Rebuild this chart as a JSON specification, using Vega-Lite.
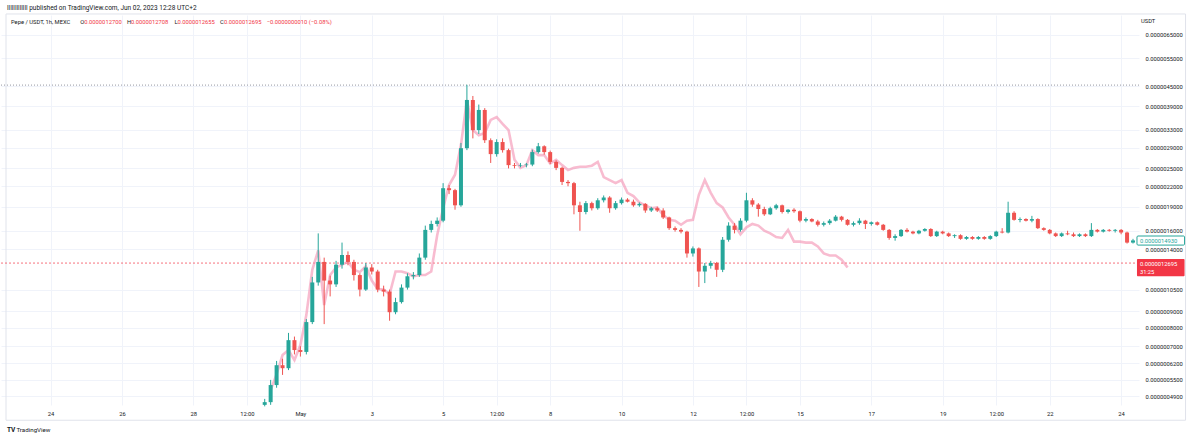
{
"$schema":"https://vega.github.io/schema/vega-lite/v6.json",
"width":1138,"height":390,
"autosize":{"type":"none"},
"padding":{"left":1,"top":15,"right":61,"bottom":34},
"background":"#ffffff",
"config":{"view":{"stroke":null},"font":"Roboto","text":{"font":"Roboto"}},
"datasets":{
"candles":[
{"t":"2023-04-30T00:00","o":0.46,"h":0.48,"l":0.455,"c":0.469},
{"t":"2023-04-30T04:00","o":0.469,"h":0.55,"l":0.46,"c":0.53},
{"t":"2023-04-30T08:00","o":0.53,"h":0.63,"l":0.52,"c":0.611},
{"t":"2023-04-30T12:00","o":0.611,"h":0.64,"l":0.57,"c":0.598},
{"t":"2023-04-30T16:00","o":0.598,"h":0.77,"l":0.59,"c":0.731},
{"t":"2023-04-30T20:00","o":0.731,"h":0.75,"l":0.66,"c":0.681},
{"t":"2023-05-01T00:00","o":0.681,"h":0.70,"l":0.65,"c":0.672},
{"t":"2023-05-01T04:00","o":0.672,"h":0.85,"l":0.66,"c":0.832},
{"t":"2023-05-01T08:00","o":0.832,"h":1.15,"l":0.82,"c":1.105},
{"t":"2023-05-01T12:00","o":1.105,"h":1.57,"l":1.08,"c":1.28},
{"t":"2023-05-01T16:00","o":1.28,"h":1.32,"l":0.82,"c":1.12},
{"t":"2023-05-01T20:00","o":1.12,"h":1.16,"l":1.0,"c":1.09},
{"t":"2023-05-02T00:00","o":1.09,"h":1.29,"l":1.07,"c":1.255},
{"t":"2023-05-02T04:00","o":1.255,"h":1.47,"l":1.22,"c":1.345},
{"t":"2023-05-02T08:00","o":1.345,"h":1.38,"l":1.25,"c":1.28},
{"t":"2023-05-02T12:00","o":1.28,"h":1.30,"l":1.12,"c":1.165},
{"t":"2023-05-02T16:00","o":1.165,"h":1.18,"l":1.0,"c":1.05},
{"t":"2023-05-02T20:00","o":1.05,"h":1.27,"l":1.04,"c":1.23},
{"t":"2023-05-03T00:00","o":1.23,"h":1.26,"l":1.17,"c":1.195},
{"t":"2023-05-03T04:00","o":1.195,"h":1.21,"l":1.03,"c":1.05},
{"t":"2023-05-03T08:00","o":1.05,"h":1.08,"l":1.0,"c":1.035},
{"t":"2023-05-03T12:00","o":1.035,"h":1.05,"l":0.84,"c":0.893},
{"t":"2023-05-03T16:00","o":0.893,"h":0.99,"l":0.88,"c":0.96},
{"t":"2023-05-03T20:00","o":0.96,"h":1.09,"l":0.95,"c":1.065},
{"t":"2023-05-04T00:00","o":1.065,"h":1.18,"l":1.05,"c":1.155},
{"t":"2023-05-04T04:00","o":1.155,"h":1.19,"l":1.13,"c":1.165},
{"t":"2023-05-04T08:00","o":1.165,"h":1.36,"l":1.15,"c":1.32},
{"t":"2023-05-04T12:00","o":1.32,"h":1.66,"l":1.30,"c":1.61},
{"t":"2023-05-04T16:00","o":1.61,"h":1.72,"l":1.58,"c":1.68},
{"t":"2023-05-04T20:00","o":1.68,"h":1.76,"l":1.65,"c":1.72},
{"t":"2023-05-05T00:00","o":1.72,"h":2.25,"l":1.70,"c":2.17},
{"t":"2023-05-05T04:00","o":2.17,"h":2.22,"l":2.08,"c":2.14},
{"t":"2023-05-05T08:00","o":2.14,"h":2.16,"l":1.86,"c":1.92},
{"t":"2023-05-05T12:00","o":1.92,"h":3.0,"l":1.90,"c":2.89},
{"t":"2023-05-05T16:00","o":2.89,"h":4.55,"l":2.85,"c":4.08},
{"t":"2023-05-05T20:00","o":4.08,"h":4.2,"l":3.1,"c":3.29},
{"t":"2023-05-06T00:00","o":3.29,"h":3.95,"l":3.2,"c":3.80},
{"t":"2023-05-06T04:00","o":3.80,"h":3.85,"l":3.0,"c":3.06},
{"t":"2023-05-06T08:00","o":3.06,"h":3.1,"l":2.6,"c":2.77},
{"t":"2023-05-06T12:00","o":2.77,"h":3.08,"l":2.72,"c":3.02},
{"t":"2023-05-06T16:00","o":3.02,"h":3.1,"l":2.8,"c":2.85},
{"t":"2023-05-06T20:00","o":2.85,"h":2.88,"l":2.5,"c":2.56},
{"t":"2023-05-07T00:00","o":2.56,"h":2.6,"l":2.5,"c":2.55},
{"t":"2023-05-07T04:00","o":2.55,"h":2.6,"l":2.52,"c":2.56},
{"t":"2023-05-07T08:00","o":2.56,"h":2.6,"l":2.52,"c":2.57},
{"t":"2023-05-07T12:00","o":2.57,"h":2.86,"l":2.54,"c":2.81},
{"t":"2023-05-07T16:00","o":2.81,"h":3.0,"l":2.78,"c":2.93},
{"t":"2023-05-07T20:00","o":2.93,"h":2.95,"l":2.76,"c":2.81},
{"t":"2023-05-08T00:00","o":2.81,"h":2.84,"l":2.58,"c":2.62},
{"t":"2023-05-08T04:00","o":2.62,"h":2.65,"l":2.47,"c":2.51},
{"t":"2023-05-08T08:00","o":2.51,"h":2.53,"l":2.22,"c":2.27},
{"t":"2023-05-08T12:00","o":2.27,"h":2.3,"l":2.2,"c":2.25},
{"t":"2023-05-08T16:00","o":2.25,"h":2.27,"l":1.80,"c":1.92},
{"t":"2023-05-08T20:00","o":1.92,"h":1.97,"l":1.60,"c":1.83},
{"t":"2023-05-09T00:00","o":1.83,"h":1.98,"l":1.80,"c":1.95},
{"t":"2023-05-09T04:00","o":1.95,"h":1.97,"l":1.85,"c":1.88},
{"t":"2023-05-09T08:00","o":1.88,"h":2.02,"l":1.86,"c":1.99},
{"t":"2023-05-09T12:00","o":1.99,"h":2.06,"l":1.96,"c":2.03},
{"t":"2023-05-09T16:00","o":2.03,"h":2.05,"l":1.82,"c":1.88},
{"t":"2023-05-09T20:00","o":1.88,"h":1.98,"l":1.86,"c":1.95},
{"t":"2023-05-10T00:00","o":1.95,"h":2.03,"l":1.93,"c":2.0},
{"t":"2023-05-10T04:00","o":2.0,"h":2.02,"l":1.96,"c":1.97},
{"t":"2023-05-10T08:00","o":1.97,"h":2.0,"l":1.9,"c":1.92},
{"t":"2023-05-10T12:00","o":1.92,"h":1.96,"l":1.9,"c":1.94},
{"t":"2023-05-10T16:00","o":1.94,"h":1.95,"l":1.82,"c":1.85},
{"t":"2023-05-10T20:00","o":1.85,"h":1.9,"l":1.83,"c":1.88},
{"t":"2023-05-11T00:00","o":1.88,"h":1.9,"l":1.83,"c":1.85},
{"t":"2023-05-11T04:00","o":1.85,"h":1.88,"l":1.74,"c":1.76},
{"t":"2023-05-11T08:00","o":1.76,"h":1.77,"l":1.61,"c":1.63},
{"t":"2023-05-11T12:00","o":1.63,"h":1.65,"l":1.59,"c":1.61},
{"t":"2023-05-11T16:00","o":1.61,"h":1.63,"l":1.57,"c":1.59},
{"t":"2023-05-11T20:00","o":1.59,"h":1.60,"l":1.32,"c":1.36},
{"t":"2023-05-12T00:00","o":1.36,"h":1.43,"l":1.33,"c":1.41},
{"t":"2023-05-12T04:00","o":1.41,"h":1.42,"l":1.07,"c":1.195},
{"t":"2023-05-12T08:00","o":1.195,"h":1.27,"l":1.1,"c":1.245},
{"t":"2023-05-12T12:00","o":1.245,"h":1.29,"l":1.22,"c":1.27},
{"t":"2023-05-12T16:00","o":1.27,"h":1.28,"l":1.15,"c":1.21},
{"t":"2023-05-12T20:00","o":1.21,"h":1.53,"l":1.19,"c":1.50},
{"t":"2023-05-13T00:00","o":1.50,"h":1.70,"l":1.48,"c":1.66},
{"t":"2023-05-13T04:00","o":1.66,"h":1.69,"l":1.57,"c":1.61},
{"t":"2023-05-13T08:00","o":1.61,"h":1.75,"l":1.59,"c":1.72},
{"t":"2023-05-13T12:00","o":1.72,"h":2.1,"l":1.70,"c":1.99},
{"t":"2023-05-13T16:00","o":1.99,"h":2.02,"l":1.90,"c":1.93},
{"t":"2023-05-13T20:00","o":1.93,"h":1.95,"l":1.77,"c":1.87},
{"t":"2023-05-14T00:00","o":1.87,"h":1.9,"l":1.78,"c":1.80},
{"t":"2023-05-14T04:00","o":1.80,"h":1.9,"l":1.79,"c":1.88},
{"t":"2023-05-14T08:00","o":1.88,"h":1.94,"l":1.86,"c":1.92},
{"t":"2023-05-14T12:00","o":1.92,"h":1.93,"l":1.81,"c":1.83},
{"t":"2023-05-14T16:00","o":1.83,"h":1.87,"l":1.81,"c":1.86},
{"t":"2023-05-14T20:00","o":1.86,"h":1.88,"l":1.82,"c":1.84},
{"t":"2023-05-15T00:00","o":1.84,"h":1.85,"l":1.70,"c":1.72},
{"t":"2023-05-15T04:00","o":1.72,"h":1.76,"l":1.7,"c":1.74},
{"t":"2023-05-15T08:00","o":1.74,"h":1.75,"l":1.7,"c":1.71},
{"t":"2023-05-15T12:00","o":1.71,"h":1.73,"l":1.65,"c":1.67},
{"t":"2023-05-15T16:00","o":1.67,"h":1.71,"l":1.65,"c":1.69},
{"t":"2023-05-15T20:00","o":1.69,"h":1.74,"l":1.67,"c":1.72},
{"t":"2023-05-16T00:00","o":1.72,"h":1.79,"l":1.71,"c":1.77},
{"t":"2023-05-16T04:00","o":1.77,"h":1.78,"l":1.71,"c":1.73},
{"t":"2023-05-16T08:00","o":1.73,"h":1.74,"l":1.66,"c":1.67},
{"t":"2023-05-16T12:00","o":1.67,"h":1.71,"l":1.65,"c":1.69},
{"t":"2023-05-16T16:00","o":1.69,"h":1.75,"l":1.67,"c":1.72},
{"t":"2023-05-16T20:00","o":1.72,"h":1.73,"l":1.62,"c":1.68},
{"t":"2023-05-17T00:00","o":1.68,"h":1.71,"l":1.66,"c":1.70},
{"t":"2023-05-17T04:00","o":1.70,"h":1.71,"l":1.66,"c":1.67},
{"t":"2023-05-17T08:00","o":1.67,"h":1.68,"l":1.6,"c":1.61},
{"t":"2023-05-17T12:00","o":1.61,"h":1.62,"l":1.5,"c":1.52},
{"t":"2023-05-17T16:00","o":1.52,"h":1.56,"l":1.49,"c":1.54},
{"t":"2023-05-17T20:00","o":1.54,"h":1.62,"l":1.53,"c":1.61},
{"t":"2023-05-18T00:00","o":1.61,"h":1.63,"l":1.58,"c":1.59},
{"t":"2023-05-18T04:00","o":1.59,"h":1.60,"l":1.56,"c":1.57},
{"t":"2023-05-18T08:00","o":1.57,"h":1.61,"l":1.56,"c":1.60},
{"t":"2023-05-18T12:00","o":1.60,"h":1.63,"l":1.59,"c":1.62},
{"t":"2023-05-18T16:00","o":1.62,"h":1.63,"l":1.53,"c":1.54},
{"t":"2023-05-18T20:00","o":1.54,"h":1.6,"l":1.53,"c":1.59},
{"t":"2023-05-19T00:00","o":1.59,"h":1.6,"l":1.56,"c":1.57},
{"t":"2023-05-19T04:00","o":1.57,"h":1.58,"l":1.53,"c":1.54},
{"t":"2023-05-19T08:00","o":1.54,"h":1.56,"l":1.52,"c":1.55},
{"t":"2023-05-19T12:00","o":1.55,"h":1.56,"l":1.5,"c":1.51},
{"t":"2023-05-19T16:00","o":1.51,"h":1.54,"l":1.5,"c":1.53},
{"t":"2023-05-19T20:00","o":1.53,"h":1.54,"l":1.5,"c":1.51},
{"t":"2023-05-20T00:00","o":1.51,"h":1.54,"l":1.5,"c":1.53},
{"t":"2023-05-20T04:00","o":1.53,"h":1.54,"l":1.5,"c":1.51},
{"t":"2023-05-20T08:00","o":1.51,"h":1.55,"l":1.5,"c":1.54},
{"t":"2023-05-20T12:00","o":1.54,"h":1.6,"l":1.53,"c":1.59},
{"t":"2023-05-20T16:00","o":1.59,"h":1.63,"l":1.57,"c":1.58},
{"t":"2023-05-20T20:00","o":1.58,"h":1.97,"l":1.57,"c":1.82},
{"t":"2023-05-21T00:00","o":1.82,"h":1.84,"l":1.72,"c":1.73},
{"t":"2023-05-21T04:00","o":1.73,"h":1.76,"l":1.7,"c":1.74},
{"t":"2023-05-21T08:00","o":1.74,"h":1.75,"l":1.71,"c":1.72},
{"t":"2023-05-21T12:00","o":1.72,"h":1.78,"l":1.7,"c":1.74},
{"t":"2023-05-21T16:00","o":1.74,"h":1.75,"l":1.62,"c":1.63},
{"t":"2023-05-21T20:00","o":1.63,"h":1.64,"l":1.6,"c":1.61},
{"t":"2023-05-22T00:00","o":1.61,"h":1.62,"l":1.56,"c":1.57},
{"t":"2023-05-22T04:00","o":1.57,"h":1.58,"l":1.53,"c":1.54},
{"t":"2023-05-22T08:00","o":1.54,"h":1.58,"l":1.53,"c":1.57},
{"t":"2023-05-22T12:00","o":1.57,"h":1.6,"l":1.55,"c":1.56},
{"t":"2023-05-22T16:00","o":1.56,"h":1.58,"l":1.53,"c":1.54},
{"t":"2023-05-22T20:00","o":1.54,"h":1.57,"l":1.53,"c":1.56},
{"t":"2023-05-23T00:00","o":1.56,"h":1.57,"l":1.53,"c":1.54},
{"t":"2023-05-23T04:00","o":1.54,"h":1.69,"l":1.53,"c":1.61},
{"t":"2023-05-23T08:00","o":1.61,"h":1.62,"l":1.58,"c":1.59},
{"t":"2023-05-23T12:00","o":1.59,"h":1.62,"l":1.58,"c":1.61},
{"t":"2023-05-23T16:00","o":1.61,"h":1.62,"l":1.59,"c":1.60},
{"t":"2023-05-23T20:00","o":1.60,"h":1.62,"l":1.58,"c":1.61},
{"t":"2023-05-24T00:00","o":1.61,"h":1.62,"l":1.56,"c":1.58},
{"t":"2023-05-24T04:00","o":1.58,"h":1.59,"l":1.46,"c":1.47},
{"t":"2023-05-24T08:00","o":1.47,"h":1.51,"l":1.46,"c":1.493}
],
"ghost":[
{"t":"2023-04-30T04:00","p":0.511},{"t":"2023-04-30T08:00","p":0.573},{"t":"2023-04-30T12:00","p":0.657},{"t":"2023-04-30T16:00","p":0.681},{"t":"2023-04-30T20:00","p":0.634},
{"t":"2023-05-01T00:00","p":0.706},{"t":"2023-05-01T04:00","p":0.875},{"t":"2023-05-01T08:00","p":1.21},{"t":"2023-05-01T12:00","p":1.39},{"t":"2023-05-01T16:00","p":0.94},{"t":"2023-05-01T20:00","p":1.165},
{"t":"2023-05-02T00:00","p":1.23},{"t":"2023-05-02T04:00","p":1.255},{"t":"2023-05-02T08:00","p":1.28},{"t":"2023-05-02T12:00","p":1.21},{"t":"2023-05-02T16:00","p":1.19},{"t":"2023-05-02T20:00","p":1.24},
{"t":"2023-05-03T00:00","p":1.12},{"t":"2023-05-03T04:00","p":1.055},{"t":"2023-05-03T08:00","p":1.05},{"t":"2023-05-03T12:00","p":1.015},{"t":"2023-05-03T16:00","p":1.195},{"t":"2023-05-03T20:00","p":1.195},
{"t":"2023-05-04T00:00","p":1.18},{"t":"2023-05-04T04:00","p":1.155},{"t":"2023-05-04T08:00","p":1.165},{"t":"2023-05-04T12:00","p":1.165},{"t":"2023-05-04T16:00","p":1.195},{"t":"2023-05-04T20:00","p":1.55},
{"t":"2023-05-05T00:00","p":1.88},{"t":"2023-05-05T04:00","p":2.22},{"t":"2023-05-05T08:00","p":2.39},{"t":"2023-05-05T12:00","p":2.96},{"t":"2023-05-05T16:00","p":4.08},{"t":"2023-05-05T20:00","p":3.29},
{"t":"2023-05-06T00:00","p":3.17},{"t":"2023-05-06T04:00","p":3.22},{"t":"2023-05-06T08:00","p":3.54},{"t":"2023-05-06T12:00","p":3.61},{"t":"2023-05-06T16:00","p":3.44},{"t":"2023-05-06T20:00","p":3.29},
{"t":"2023-05-07T00:00","p":2.66},{"t":"2023-05-07T04:00","p":2.51},{"t":"2023-05-07T08:00","p":2.56},{"t":"2023-05-07T12:00","p":2.85},{"t":"2023-05-07T16:00","p":2.75},{"t":"2023-05-07T20:00","p":2.75},
{"t":"2023-05-08T00:00","p":2.59},{"t":"2023-05-08T04:00","p":2.66},{"t":"2023-05-08T08:00","p":2.56},{"t":"2023-05-08T12:00","p":2.47},{"t":"2023-05-08T16:00","p":2.51},{"t":"2023-05-08T20:00","p":2.53},
{"t":"2023-05-09T00:00","p":2.53},{"t":"2023-05-09T04:00","p":2.55},{"t":"2023-05-09T08:00","p":2.62},{"t":"2023-05-09T12:00","p":2.35},{"t":"2023-05-09T16:00","p":2.30},{"t":"2023-05-09T20:00","p":2.25},
{"t":"2023-05-10T00:00","p":2.30},{"t":"2023-05-10T04:00","p":2.10},{"t":"2023-05-10T08:00","p":2.05},{"t":"2023-05-10T12:00","p":1.96},{"t":"2023-05-10T16:00","p":1.92},{"t":"2023-05-10T20:00","p":1.88},
{"t":"2023-05-11T00:00","p":1.89},{"t":"2023-05-11T04:00","p":1.79},{"t":"2023-05-11T08:00","p":1.73},{"t":"2023-05-11T12:00","p":1.72},{"t":"2023-05-11T16:00","p":1.67},{"t":"2023-05-11T20:00","p":1.72},
{"t":"2023-05-12T00:00","p":1.73},{"t":"2023-05-12T04:00","p":2.07},{"t":"2023-05-12T08:00","p":2.30},{"t":"2023-05-12T12:00","p":2.10},{"t":"2023-05-12T16:00","p":1.95},{"t":"2023-05-12T20:00","p":1.89},
{"t":"2023-05-13T00:00","p":1.76},{"t":"2023-05-13T04:00","p":1.67},{"t":"2023-05-13T08:00","p":1.56},{"t":"2023-05-13T12:00","p":1.64},{"t":"2023-05-13T16:00","p":1.68},{"t":"2023-05-13T20:00","p":1.66},
{"t":"2023-05-14T00:00","p":1.60},{"t":"2023-05-14T04:00","p":1.57},{"t":"2023-05-14T08:00","p":1.53},{"t":"2023-05-14T12:00","p":1.52},{"t":"2023-05-14T16:00","p":1.61},{"t":"2023-05-14T20:00","p":1.48},
{"t":"2023-05-15T00:00","p":1.48},{"t":"2023-05-15T04:00","p":1.47},{"t":"2023-05-15T08:00","p":1.47},{"t":"2023-05-15T12:00","p":1.43},{"t":"2023-05-15T16:00","p":1.36},{"t":"2023-05-15T20:00","p":1.34},
{"t":"2023-05-16T00:00","p":1.34},{"t":"2023-05-16T04:00","p":1.30},{"t":"2023-05-16T08:00","p":1.23}
]
},
"layer":[
{"data":{"values":[{}]},"layer":[
{"mark":{"type":"rect","fill":null,"stroke":"#e0e3eb","strokeWidth":1},
 "encoding":{"x":{"datum":{"year":2023,"month":4,"date":22,"hours":18},"type":"temporal"},"x2":{"datum":{"year":2023,"month":5,"date":25,"hours":19,"minutes":20}},
 "y":{"datum":7.555,"type":"quantitative"},"y2":{"datum":0.412}}},
{"mark":{"type":"rule","color":"#9598a1","strokeDash":[1,2],"strokeWidth":1},"encoding":{"y":{"datum":4.54,"type":"quantitative"}}},
{"mark":{"type":"rule","color":"#f23645","strokeDash":[2,2],"strokeWidth":1,"opacity":0.7},"encoding":{"y":{"datum":1.2695,"type":"quantitative"}}}
]},
{"data":{"name":"ghost"},"mark":{"type":"line","color":"#f48fb1","opacity":0.6,"strokeWidth":2.6},
 "encoding":{"x":{"field":"t","type":"temporal"},"y":{"field":"p","type":"quantitative"}}},
{"data":{"name":"candles"},"mark":{"type":"rule","strokeWidth":1},
 "encoding":{
  "x":{"field":"t","type":"temporal","scale":{"domain":[{"year":2023,"month":4,"date":22,"hours":18},{"year":2023,"month":5,"date":24,"hours":8,"minutes":40}]},
   "axis":{"title":null,"orient":"bottom","domain":false,"ticks":false,"grid":true,"gridColor":"#f0f3fa","labelFontSize":5.8,"labelColor":"#131722","labelFont":"Roboto","labelPadding":5,
   "values":[{"year":2023,"month":4,"date":24},{"year":2023,"month":4,"date":26},{"year":2023,"month":4,"date":28},{"year":2023,"month":4,"date":29,"hours":12},{"year":2023,"month":5,"date":1},{"year":2023,"month":5,"date":3},{"year":2023,"month":5,"date":5},{"year":2023,"month":5,"date":6,"hours":12},{"year":2023,"month":5,"date":8},{"year":2023,"month":5,"date":10},{"year":2023,"month":5,"date":12},{"year":2023,"month":5,"date":13,"hours":12},{"year":2023,"month":5,"date":15},{"year":2023,"month":5,"date":17},{"year":2023,"month":5,"date":19},{"year":2023,"month":5,"date":20,"hours":12},{"year":2023,"month":5,"date":22},{"year":2023,"month":5,"date":24}],
   "labelExpr":"hours(datum.value) == 12 ? '12:00' : (date(datum.value) == 1 ? 'May' : '' + date(datum.value))"}},
  "y":{"field":"l","type":"quantitative","scale":{"type":"log","domain":[0.4595,7.5],"nice":false,"zero":false},
   "axis":{"title":null,"orient":"right","domain":false,"ticks":false,"grid":true,"gridColor":"#f0f3fa","labelFontSize":5.8,"labelColor":"#131722","labelFont":"Roboto","labelPadding":6,
   "values":[0.49,0.55,0.62,0.7,0.8,0.9,1.05,1.4,1.6,1.9,2.2,2.5,2.9,3.3,3.9,4.5,5.5,6.5],
   "labelExpr":"format(datum.value/1000000,'.10f')"}},
  "y2":{"field":"h"},
  "color":{"condition":{"test":"datum.c >= datum.o","value":"#26a69a"},"value":"#ef5350"}}},
{"data":{"name":"candles"},"mark":{"type":"bar","width":4},
 "encoding":{"x":{"field":"t","type":"temporal"},"y":{"field":"o","type":"quantitative"},"y2":{"field":"c"},
  "color":{"condition":{"test":"datum.c >= datum.o","value":"#26a69a"},"value":"#ef5350"}}},
{"data":{"values":[{}]},"layer":[
{"mark":{"type":"text","text":"lllllllllllll published on TradingView.com, Jun 02, 2023 12:28 UTC+2","align":"left","baseline":"middle","fontSize":6.5,"color":"#131722"},
 "encoding":{"x":{"datum":{"year":2023,"month":4,"date":22,"hours":18,"minutes":40},"type":"temporal"},"y":{"datum":7.89,"type":"quantitative"}}},
{"mark":{"type":"text","text":"Pepe / USDT, 1h, MEXC","align":"left","baseline":"middle","fontSize":5.8,"color":"#131722"},
 "encoding":{"x":{"datum":{"year":2023,"month":4,"date":22,"hours":21,"minutes":20},"type":"temporal"},"y":{"datum":7.13,"type":"quantitative"}}},
{"mark":{"type":"text","text":"O","align":"left","baseline":"middle","fontSize":5.8,"color":"#131722"},
 "encoding":{"x":{"datum":{"year":2023,"month":4,"date":24,"hours":20},"type":"temporal"},"y":{"datum":7.13,"type":"quantitative"}}},
{"mark":{"type":"text","text":"0.0000012700","align":"left","baseline":"middle","fontSize":5.8,"color":"#f23645"},
 "encoding":{"x":{"datum":{"year":2023,"month":4,"date":24,"hours":22,"minutes":40},"type":"temporal"},"y":{"datum":7.13,"type":"quantitative"}}},
{"mark":{"type":"text","text":"H","align":"left","baseline":"middle","fontSize":5.8,"color":"#131722"},
 "encoding":{"x":{"datum":{"year":2023,"month":4,"date":26,"hours":3,"minutes":20},"type":"temporal"},"y":{"datum":7.13,"type":"quantitative"}}},
{"mark":{"type":"text","text":"0.0000012708","align":"left","baseline":"middle","fontSize":5.8,"color":"#f23645"},
 "encoding":{"x":{"datum":{"year":2023,"month":4,"date":26,"hours":6},"type":"temporal"},"y":{"datum":7.13,"type":"quantitative"}}},
{"mark":{"type":"text","text":"L","align":"left","baseline":"middle","fontSize":5.8,"color":"#131722"},
 "encoding":{"x":{"datum":{"year":2023,"month":4,"date":27,"hours":11,"minutes":20},"type":"temporal"},"y":{"datum":7.13,"type":"quantitative"}}},
{"mark":{"type":"text","text":"0.0000012655","align":"left","baseline":"middle","fontSize":5.8,"color":"#f23645"},
 "encoding":{"x":{"datum":{"year":2023,"month":4,"date":27,"hours":13,"minutes":20},"type":"temporal"},"y":{"datum":7.13,"type":"quantitative"}}},
{"mark":{"type":"text","text":"C","align":"left","baseline":"middle","fontSize":5.8,"color":"#131722"},
 "encoding":{"x":{"datum":{"year":2023,"month":4,"date":28,"hours":18},"type":"temporal"},"y":{"datum":7.13,"type":"quantitative"}}},
{"mark":{"type":"text","text":"0.0000012695","align":"left","baseline":"middle","fontSize":5.8,"color":"#f23645"},
 "encoding":{"x":{"datum":{"year":2023,"month":4,"date":28,"hours":20,"minutes":40},"type":"temporal"},"y":{"datum":7.13,"type":"quantitative"}}},
{"mark":{"type":"text","text":"−0.0000000010 (−0.08%)","align":"left","baseline":"middle","fontSize":5.8,"color":"#f23645"},
 "encoding":{"x":{"datum":{"year":2023,"month":4,"date":30,"hours":1,"minutes":20},"type":"temporal"},"y":{"datum":7.13,"type":"quantitative"}}},
{"mark":{"type":"text","text":"USDT","align":"left","baseline":"middle","fontSize":5.8,"color":"#131722"},
 "encoding":{"x":{"datum":{"year":2023,"month":5,"date":24,"hours":13,"minutes":20},"type":"temporal"},"y":{"datum":7.19,"type":"quantitative"}}},
{"mark":{"type":"text","text":"TV","align":"left","baseline":"middle","fontSize":6.5,"fontWeight":"bold","color":"#131722"},
 "encoding":{"x":{"datum":{"year":2023,"month":4,"date":22,"hours":18,"minutes":40},"type":"temporal"},"y":{"datum":0.3838,"type":"quantitative"}}},
{"mark":{"type":"text","text":"TradingView","align":"left","baseline":"middle","fontSize":6.2,"color":"#131722"},
 "encoding":{"x":{"datum":{"year":2023,"month":4,"date":23,"hours":1},"type":"temporal"},"y":{"datum":0.3838,"type":"quantitative"}}},
{"mark":{"type":"rect","fill":"#ffffff","stroke":"#26a69a","strokeWidth":1,"cornerRadius":1},
 "encoding":{"x":{"datum":{"year":2023,"month":5,"date":24,"hours":10,"minutes":40},"type":"temporal"},"x2":{"datum":{"year":2023,"month":5,"date":25,"hours":18,"minutes":40}},
 "y":{"datum":1.541,"type":"quantitative"},"y2":{"datum":1.444}}},
{"mark":{"type":"text","text":"0.0000014930","align":"left","baseline":"middle","fontSize":5.8,"color":"#26a69a"},
 "encoding":{"x":{"datum":{"year":2023,"month":5,"date":24,"hours":12,"minutes":40},"type":"temporal"},"y":{"datum":1.49,"type":"quantitative"}}},
{"mark":{"type":"rect","fill":"#f23645","cornerRadius":1},
 "encoding":{"x":{"datum":{"year":2023,"month":5,"date":24,"hours":10,"minutes":40},"type":"temporal"},"x2":{"datum":{"year":2023,"month":5,"date":25,"hours":18,"minutes":40}},
 "y":{"datum":1.307,"type":"quantitative"},"y2":{"datum":1.156}}},
{"mark":{"type":"text","text":"0.0000012695","align":"left","baseline":"middle","fontSize":5.8,"color":"#ffffff"},
 "encoding":{"x":{"datum":{"year":2023,"month":5,"date":24,"hours":12,"minutes":40},"type":"temporal"},"y":{"datum":1.26,"type":"quantitative"}}},
{"mark":{"type":"text","text":"31:25","align":"left","baseline":"middle","fontSize":5.8,"color":"#ffffff"},
 "encoding":{"x":{"datum":{"year":2023,"month":5,"date":24,"hours":12,"minutes":40},"type":"temporal"},"y":{"datum":1.19,"type":"quantitative"}}}
]}
]
}
